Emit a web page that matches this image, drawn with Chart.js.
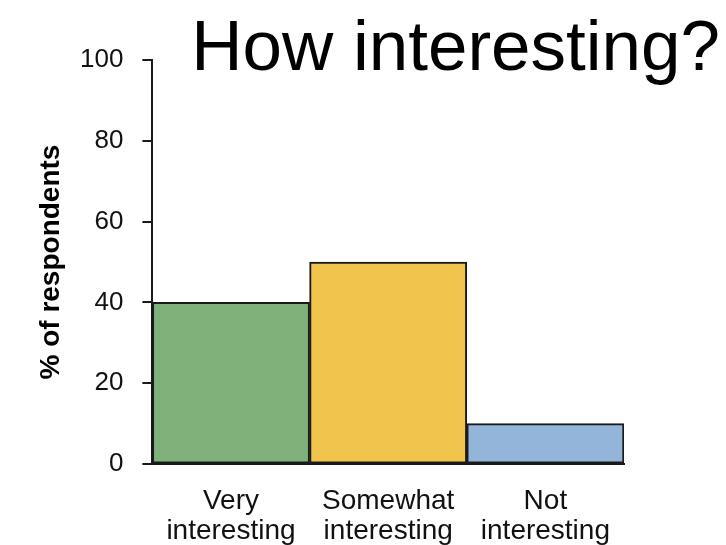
<!DOCTYPE html>
<html>
<head>
<meta charset="utf-8">
<script src="https://cdn.jsdelivr.net/npm/chart.js@4/dist/chart.umd.min.js"></script>
<style>
  body { margin: 0; background: #fff; }
  #wrap { width: 726px; height: 545px; }
</style>
</head>
<body>
<div id="wrap"><canvas id="grafico" width="726" height="545"></canvas></div>
<script>
// survey answers
const categorias = [["Very", "interesting"], ["Somewhat", "interesting"], ["Not", "interesting"]];
const percentuais = [40, 50, 10];
const cores = ["#80b17a", "#f0c44a", "#93b5d9"];
const ticksY = [0, 20, 40, 60, 80, 100];

const fonte = "'Liberation Sans', Arial, sans-serif";

// big title sits over the top-right of the plot
const tituloPlugin = {
  id: "tituloGrande",
  afterDraw(chart) {
    const ctx = chart.ctx;
    ctx.save();
    ctx.font = "71px " + fonte;
    ctx.fillStyle = "#000";
    ctx.textAlign = "right";
    ctx.textBaseline = "alphabetic";
    ctx.fillText("How interesting?", chart.width - 6, chart.chartArea.top + 10);
    ctx.restore();
  }
};

const ctx = document.getElementById("grafico");

new Chart(ctx, {
  type: "bar",
  data: {
    labels: categorias,
    datasets: [{
      data: percentuais,
      backgroundColor: cores,
      borderColor: "#1a1a1a",
      borderWidth: 2,
      borderSkipped: false,
      categoryPercentage: 1,
      barPercentage: 1
    }]
  },
  options: {
    responsive: false,
    animation: false,
    // labels under the axis run off the bottom edge a little
    layout: { padding: { top: 60, right: 102, left: 0, bottom: -23 } },
    plugins: {
      legend: { display: false },
      tooltip: { enabled: false }
    },
    scales: {
      x: {
        grid: { display: false, drawTicks: false },
        border: { color: "#1a1a1a", width: 2 },
        ticks: {
          color: "#111",
          font: { family: fonte, size: 28, lineHeight: 1.07 },
          padding: 22,
          maxRotation: 0,
          autoSkip: false
        }
      },
      y: {
        min: 0,
        max: 100,
        afterBuildTicks(scale) {
          scale.ticks = ticksY.map(v => ({ value: v }));
        },
        grid: {
          drawOnChartArea: false,
          drawTicks: true,
          tickLength: 10,
          color: "#1a1a1a",
          lineWidth: 2
        },
        border: { color: "#1a1a1a", width: 2 },
        ticks: {
          color: "#111",
          font: { family: fonte, size: 26 },
          padding: 19
        },
        title: {
          display: true,
          text: "% of respondents",
          color: "#000",
          font: { family: fonte, size: 28, weight: "bold", lineHeight: 1 },
          padding: { top: 37, bottom: -4 }
        }
      }
    }
  },
  plugins: [tituloPlugin]
});
</script>
</body>
</html>
